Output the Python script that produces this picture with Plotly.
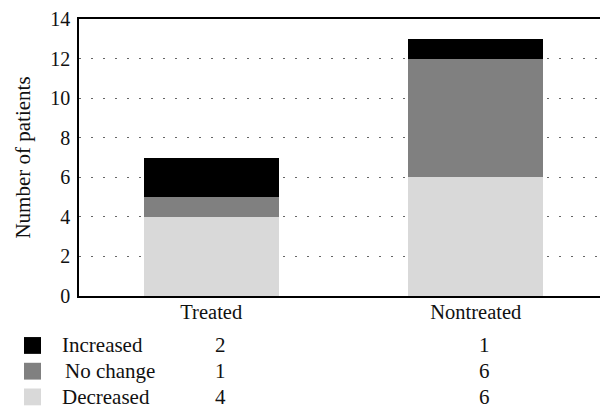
import plotly.graph_objects as go

categories = ["Treated", "Nontreated"]
series_names = ["Decreased", "No change", "Increased"]
decreased = [4, 6]
no_change = [1, 6]
increased = [2, 1]
y_ticks = [0, 2, 4, 6, 8, 10, 12, 14]

colors = {"Decreased": "#d9d9d9", "No change": "#808080", "Increased": "#000000"}
values = {"Decreased": decreased, "No change": no_change, "Increased": increased}

FONT = "Liberation Serif"

# page has an 8px body margin; figure drawn at (8, 8)
OFF = 8
W, H = 608 - OFF, 411 - OFF
PLOT_LEFT, PLOT_TOP, PLOT_BOTTOM = 79, 16, 296
ML = PLOT_LEFT - OFF
MT = PLOT_TOP - OFF
MB = 411 - PLOT_BOTTOM
MR = 0
plot_h = PLOT_BOTTOM - PLOT_TOP
plot_w = 608 - PLOT_LEFT


def py(ypage):
    return (PLOT_BOTTOM - ypage) / plot_h


def px(xpage):
    return (xpage - PLOT_LEFT) / plot_w


fig = go.Figure()
for name in series_names:
    fig.add_trace(go.Bar(
        x=categories, y=values[name], name=name,
        marker=dict(color=colors[name], line=dict(width=0)),
        width=0.51, showlegend=False,
    ))

shapes = []
annotations = []
rows = [("Increased", increased, 346, 60), ("No change", no_change, 372, 63),
        ("Decreased", decreased, 398, 60)]
for name, vals, ypx, lx in rows:
    shapes.append(dict(type="rect", xref="paper", yref="paper",
                       x0=px(24), x1=px(41), y0=py(ypx + 8.5), y1=py(ypx - 8.5),
                       fillcolor=colors[name], line=dict(width=0), layer="above"))
    annotations.append(dict(text=name, xref="paper", yref="paper", x=px(lx), y=py(ypx),
                            xanchor="left", yanchor="middle", showarrow=False,
                            font=dict(family=FONT, size=21, color="#111")))
    for cat, v in zip(categories, vals):
        annotations.append(dict(text=str(v), xref="x", yref="paper", x=cat, y=py(ypx),
                                xshift=9, xanchor="center", yanchor="middle", showarrow=False,
                                font=dict(family=FONT, size=21, color="#111")))

fig.update_layout(
    barmode="stack",
    width=W, height=H,
    margin=dict(l=ML, r=MR, t=MT, b=MB),
    paper_bgcolor="white", plot_bgcolor="white",
    font=dict(family=FONT, size=20, color="#111"),
    shapes=shapes, annotations=annotations,
    xaxis=dict(range=[-0.5, 1.5], showline=True, linecolor="#000", linewidth=1.5,
               mirror=True, showgrid=False, ticks="", ticklabelstandoff=-3,
               tickfont=dict(family=FONT, size=20.5, color="#111")),
    yaxis=dict(range=[0, 14], tickvals=y_ticks, showline=True, linecolor="#000",
               linewidth=1.5, showgrid=True, gridcolor="#666", gridwidth=1.2,
               griddash="2px,10px", zeroline=False, ticks="outside", ticklen=3,
               tickcolor="rgba(0,0,0,0)", ticklabeloverflow="allow",
               tickfont=dict(family=FONT, size=20, color="#111"),
               title=dict(text="Number of patients", standoff=14,
                          font=dict(family=FONT, size=21, color="#111"))),
)

fig.write_html("out.html")
